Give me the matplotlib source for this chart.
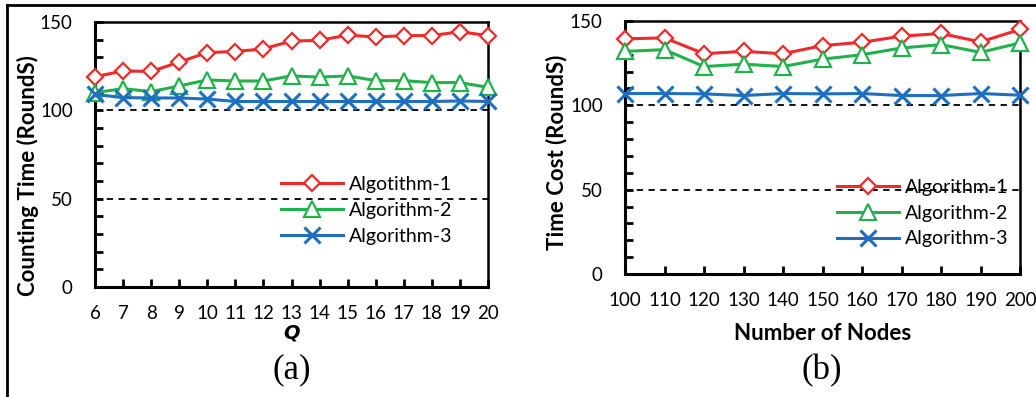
import matplotlib
matplotlib.use("Agg")
import matplotlib.pyplot as plt
from matplotlib.lines import Line2D

# ---- data ----
q_vals = [6, 7, 8, 9, 10, 11, 12, 13, 14, 15, 16, 17, 18, 19, 20]
a_alg1 = [119, 122.3, 122, 127.3, 132.7, 133.3, 134.8, 139.2, 139.6, 142.6, 141.5, 142.3, 142.3, 144.5, 142.3]
a_alg2 = [110, 112.3, 110.6, 113.8, 117.2, 116.6, 116.6, 119.5, 118.8, 119.5, 116.8, 116.8, 115.7, 115.7, 113]
a_alg3 = [109, 107.2, 107, 107, 106.4, 105, 105, 105, 105, 105, 105, 105, 105, 105.3, 105]

nodes = [100, 110, 120, 130, 140, 150, 160, 170, 180, 190, 200]
b_alg1 = [139.4, 140, 130.6, 132, 130.6, 135.4, 137.4, 141, 142.6, 137.6, 145]
b_alg2 = [132, 133, 123, 124.4, 123, 127.4, 130, 134, 136, 131.4, 137]
b_alg3 = [107, 107, 106.8, 105.8, 107, 106.8, 107, 105.8, 105.8, 107, 106]

labels_a = ["Algotithm-1", "Algorithm-2", "Algorithm-3"]
labels_b = ["Algorithm-1", "Algorithm-2", "Algorithm-3"]
yticks = [0, 50, 100, 150]
ref_lines = [50, 100]

RED = "#ee2a2a"
GREEN = "#23b14d"
BLUE = "#1f6fc0"
FONT = "Lato"

plt.rcParams['font.family'] = [FONT, 'DejaVu Sans']

fig = plt.figure(figsize=(10.36, 3.97), dpi=100)
W, H = 1036, 397

def make_axes(l, r, b, t):
    return fig.add_axes([l / W, 1 - b / H, (r - l) / W, (b - t) / H])

axA = make_axes(95, 488, 287, 22)
axB = make_axes(625, 1020, 274, 21)

styles = [
    dict(color=RED, marker='D', markersize=8.5, markerfacecolor='white', markeredgewidth=1.6),
    dict(color=GREEN, marker='^', markersize=11, markerfacecolor='white', markeredgewidth=1.6),
    dict(color=BLUE, marker='x', markersize=11, markeredgewidth=2.2),
]

def setup(ax, x, series, labels, xlabel, xlabel_style, ylabel, leg_xy, xlabel_y, ylabel_xy):
    for yv in ref_lines:
        ax.axhline(yv, color='black', linestyle=(0, (3.5, 3)), linewidth=1.3, zorder=1)
    handles = []
    for s, lab, st in zip(series, labels, styles):
        h, = ax.plot(x, s, linewidth=2.2, label=lab, zorder=3, clip_on=False, **st)
        handles.append(h)
    ax.set_xlim(x[0], x[-1])
    ax.set_ylim(0, 150)
    ax.set_xticks(x)
    ax.set_yticks(yticks)
    ax.set_yticks(range(0, 151, 10), minor=True)
    ax.tick_params(axis='x', direction='in', length=6, width=2, pad=13, labelsize=13.5)
    ax.tick_params(axis='y', which='both', direction='in', length=6, width=2, pad=16, labelsize=13.5)
    ax.tick_params(axis='y', which='minor', labelleft=False)
    for name, sp in ax.spines.items():
        sp.set_color('black')
        sp.set_linewidth(2.2 if name in ('left', 'bottom') else 1.8)
    ax.set_xlabel(xlabel, fontweight='bold', **xlabel_style)
    ax.xaxis.set_label_coords(0.5, xlabel_y)
    ax.xaxis.label.set_va('center')
    ax.set_ylabel(ylabel, fontsize=16, fontweight='bold')
    ax.yaxis.set_label_coords(*ylabel_xy)
    ax.yaxis.label.set_va('center')
    leg = ax.legend(handles=handles, loc='upper left', bbox_to_anchor=leg_xy, frameon=False,
                    fontsize=14, handlelength=3.2, handletextpad=0.3, labelspacing=0.45,
                    borderpad=0, borderaxespad=0, numpoints=1)
    leg.set_zorder(5)

setup(axA, q_vals, [a_alg1, a_alg2, a_alg3], labels_a, 'Q',
      dict(fontstyle='italic', family='DejaVu Sans', fontsize=14),
      'Counting Time (RoundS)', (0.473, 0.418), (287 - 333) / 265,
      ((28 - 95) / 393, (287 - 176) / 265))
setup(axB, nodes, [b_alg1, b_alg2, b_alg3], labels_b, 'Number of Nodes', dict(fontsize=16),
      'Time Cost (RoundS)', (0.537, 0.376), (274 - 333) / 253,
      ((557 - 625) / 395, (274 - 152) / 253))

fig.text(292 / W, 1 - 370 / H, '(a)', family='Liberation Serif', fontsize=25, ha='center', va='center')
fig.text(822 / W, 1 - 371 / H, '(b)', family='Liberation Serif', fontsize=25, ha='center', va='center')

# outer frame (top and left)
fig.add_artist(Line2D([7 / W, 7 / W], [0, 1 - 5 / H], transform=fig.transFigure, color='black', linewidth=2))
fig.add_artist(Line2D([7 / W, 1], [1 - 5 / H, 1 - 5 / H], transform=fig.transFigure, color='black', linewidth=2))

fig.savefig('out.png', dpi=100)
